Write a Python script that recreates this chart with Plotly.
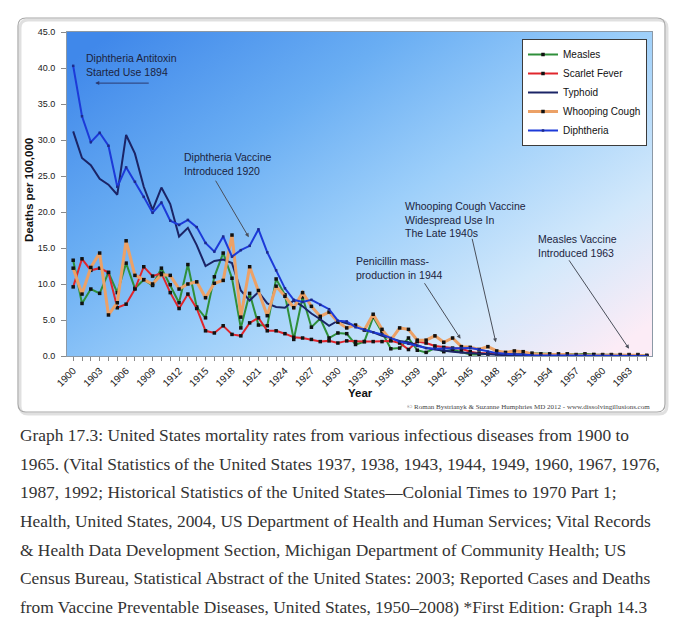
import base64
import plotly.graph_objects as go

# ---------------- data ----------------
years = list(range(1900, 1966))

measles = [13.3, 7.3, 9.3, 8.7, 11.6, 8.8, 12.9, 9.4, 10.6, 9.8,
           12.2, 9.9, 7.4, 12.7, 6.8, 5.3, 11.0, 14.3, 10.8, 3.9,
           8.7, 4.3, 4.2, 10.7, 8.5, 2.3, 8.2, 4.0, 5.2, 2.5,
           3.2, 3.1, 1.6, 2.0, 5.4, 3.3, 1.0, 1.1, 2.5, 0.8,
           0.5, 1.1, 0.6, 0.9, 0.6, 0.2, 0.2, 0.3, 0.4, 0.3,
           0.2, 0.4, 0.4, 0.3, 0.3, 0.2, 0.3, 0.2, 0.3, 0.2,
           0.2, 0.2, 0.2, 0.2, 0.2, 0.1]

scarlet_fever = [9.6, 13.5, 11.9, 12.2, 11.6, 6.7, 7.2, 9.3, 12.4, 11.1,
                 11.5, 8.8, 6.6, 8.6, 6.6, 3.5, 3.2, 4.2, 3.0, 2.8,
                 4.6, 5.3, 3.5, 3.5, 3.1, 2.6, 2.5, 2.3, 2.0, 2.1,
                 1.8, 2.1, 2.0, 2.0, 2.0, 2.0, 2.1, 1.8, 0.9, 2.0,
                 1.8, 1.4, 1.2, 1.1, 1.0, 0.6, 0.4, 0.3, 0.3, 0.2,
                 0.2, 0.1, 0.1, 0.1, 0.1, 0.1, 0.1, 0.1, 0.1, 0.1,
                 0.1, 0.1, 0.1, 0.1, 0.1, 0.0]

typhoid = [31.2, 27.5, 26.5, 24.6, 23.8, 22.4, 30.7, 28.1, 23.5, 20.3,
           23.4, 21.1, 16.6, 17.8, 15.4, 12.5, 13.2, 13.4, 12.9, 9.1,
           7.7, 8.9, 7.3, 6.8, 6.7, 7.7, 6.9, 5.9, 5.1, 4.2,
           4.9, 4.6, 4.2, 3.6, 3.3, 2.8, 2.4, 2.1, 1.9, 1.5,
           1.1, 0.9, 0.7, 0.6, 0.5, 0.4, 0.3, 0.2, 0.2, 0.1,
           0.1, 0.1, 0.1, 0.0, 0.0, 0.0, 0.0, 0.0, 0.0, 0.0,
           0.0, 0.0, 0.0, 0.0, 0.0, 0.0]

whooping_cough = [12.2, 8.6, 12.3, 14.3, 5.7, 7.4, 16.0, 11.2, 10.6, 10.0,
                  11.3, 11.2, 9.3, 10.0, 10.3, 8.1, 10.1, 10.5, 16.8, 5.4,
                  12.4, 9.1, 5.6, 9.7, 8.3, 6.7, 8.8, 6.9, 5.5, 6.1,
                  4.7, 3.9, 4.3, 3.6, 5.8, 3.7, 2.2, 3.9, 3.7, 2.2,
                  2.2, 2.8, 1.9, 2.5, 1.3, 1.2, 0.9, 1.3, 0.7, 0.5,
                  0.7, 0.6, 0.3, 0.2, 0.2, 0.3, 0.2, 0.1, 0.1, 0.2,
                  0.1, 0.1, 0.1, 0.1, 0.1, 0.0]

diphtheria = [40.3, 33.3, 29.7, 31.0, 29.2, 23.5, 26.2, 24.2, 22.1, 19.9,
              21.3, 18.8, 18.2, 18.9, 17.9, 15.7, 14.5, 16.6, 13.8, 14.7,
              15.3, 17.6, 14.4, 11.9, 9.4, 7.8, 7.5, 7.8, 7.1, 6.5,
              4.9, 4.8, 4.0, 3.6, 3.3, 3.0, 2.5, 2.0, 1.7, 1.4,
              1.1, 1.0, 1.0, 1.1, 1.1, 1.1, 0.9, 0.6, 0.4, 0.3,
              0.3, 0.2, 0.1, 0.1, 0.1, 0.1, 0.0, 0.0, 0.0, 0.0,
              0.0, 0.0, 0.0, 0.0, 0.0, 0.0]

y_tick_values = [0, 5, 10, 15, 20, 25, 30, 35, 40, 45]
x_label_years = list(range(1900, 1964, 3))

caption_lines = [
    "Graph 17.3: United States mortality rates from various infectious diseases from 1900 to",
    "1965. (Vital Statistics of the United States 1937, 1938, 1943, 1944, 1949, 1960, 1967, 1976,",
    "1987, 1992; Historical Statistics of the United States\u2014Colonial Times to 1970 Part 1;",
    "Health, United States, 2004, US Department of Health and Human Services; Vital Records",
    "& Health Data Development Section, Michigan Department of Community Health; US",
    "Census Bureau, Statistical Abstract of the United States: 2003; Reported Cases and Deaths",
    "from Vaccine Preventable Diseases, United States, 1950\u20132008) *First Edition: Graph 14.3",
]

# ---------------- layout geometry ----------------
# target pixel positions (page coordinates); the page body adds an 8px offset
W, H = 680, 632
OFF = 8
PLOT_L, PLOT_T, PW, PH = 67, 32, 585, 324
L, T = PLOT_L - OFF, PLOT_T - OFF
R, B = W - L - PW, H - T - PH


def px(xp):
    return (xp - PLOT_L) / PW


def py(yp):
    return (PLOT_T + PH - yp) / PH


SANS = "Liberation Sans, Arial, sans-serif"
SERIF = "Liberation Serif, Times New Roman, serif"

fig = go.Figure()

series = [
    ("Measles", measles, "#2f8f3a", 2, dict(size=3.5, color="#111111", symbol="square")),
    ("Scarlet Fever", scarlet_fever, "#e0262c", 2, dict(size=3.5, color="#111111", symbol="square")),
    ("Typhoid", typhoid, "#1b2466", 2, None),
    ("Whooping Cough", whooping_cough, "#eca166", 3, dict(size=3.5, color="#111111", symbol="square")),
    ("Diphtheria", diphtheria, "#1d3ad8", 2, dict(size=2.5, color="#1d2a8a", symbol="square")),
]
for name, vals, col, w, mk in series:
    fig.add_trace(go.Scatter(
        x=years, y=vals, name=name,
        mode="lines+markers" if mk else "lines",
        line=dict(color=col, width=w),
        marker=mk,
    ))

# gradient plot background (svg data uri)
svg = ("<svg xmlns='http://www.w3.org/2000/svg' width='400' height='220' viewBox='0 0 400 220' "
       "preserveAspectRatio='none'><defs><linearGradient id='g' x1='0' y1='0.1' x2='1' y2='0.9'>"
       "<stop offset='0' stop-color='#4088ea'/><stop offset='0.3' stop-color='#6aaef3'/>"
       "<stop offset='0.55' stop-color='#9dcffa'/><stop offset='0.8' stop-color='#d2e8fb'/>"
       "<stop offset='1' stop-color='#fcecf6'/></linearGradient></defs>"
       "<rect width='400' height='220' fill='url(#g)'/></svg>")
src = "data:image/svg+xml;base64," + base64.b64encode(svg.encode()).decode()
fig.add_layout_image(dict(source=src, xref="paper", yref="paper", x=0, y=1,
                          sizex=1, sizey=1, xanchor="left", yanchor="top",
                          sizing="stretch", layer="below"))


def rounded(x0, y0, x1, y1, r):
    rx, ry = r / PW, r / PH
    a, b, c, d = px(x0), py(y0), px(x1), py(y1)
    return (f"M {a+rx},{b} L {c-rx},{b} Q {c},{b} {c},{b-ry} L {c},{d+ry} Q {c},{d} {c-rx},{d} "
            f"L {a+rx},{d} Q {a},{d} {a},{d+ry} L {a},{b-ry} Q {a},{b} {a+rx},{b} Z")


# outer frame with soft shadow
fig.add_shape(type="path", xref="paper", yref="paper", path=rounded(20, 20, 667, 414, 8),
              line=dict(color="rgba(0,0,0,0.12)", width=3), layer="below")
fig.add_shape(type="path", xref="paper", yref="paper", path=rounded(18, 18, 665, 412, 8),
              line=dict(color="#a8a8a8", width=1.2), fillcolor="rgba(0,0,0,0)", layer="below")

ann_font = dict(family=SANS, size=10.5, color="#1c2440")
texts = [
    ("Diphtheria Antitoxin<br>Started Use 1894", 1901.2, 42.5),
    ("Diphtheria Vaccine<br>Introduced 1920", 1912.3, 28.7),
    ("Penicillin mass-<br>production in 1944", 1931.8, 14.3),
    ("Whooping Cough Vaccine<br>Widespread Use In<br>The Late 1940s", 1937.4, 22.0),
    ("Measles Vaccine<br>Introduced 1963", 1952.4, 17.3),
]
for t, x, y in texts:
    fig.add_annotation(x=x, y=y, xref="x", yref="y", text=t, showarrow=False,
                       xanchor="left", yanchor="top", align="left", font=ann_font)

arrows = [
    (1902.5, 37.9, 55, 0, "#2b3a70"),
    (1919.9, 16.5, -34, -58, "#4a4f5a"),
    (1943.9, 2.4, -37, -57, "#4a4f5a"),
    (1947.9, 1.9, -24, -105, "#4a4f5a"),
    (1963.0, 1.0, -61, -90, "#4a4f5a"),
]
for x, y, ax, ay, c in arrows:
    fig.add_annotation(x=x, y=y, xref="x", yref="y", ax=ax, ay=ay, text="",
                       showarrow=True, arrowhead=2, arrowsize=0.8, arrowwidth=1,
                       arrowcolor=c)

# axis titles and credit
fig.add_annotation(x=px(29), y=py(190), xref="paper", yref="paper", text="<b>Deaths per 100,000</b>",
                   textangle=-90, showarrow=False, xanchor="center", yanchor="middle",
                   font=dict(family=SANS, size=11.5, color="#111111"))
fig.add_annotation(x=px(360), y=py(393), xref="paper", yref="paper", text="<b>Year</b>",
                   showarrow=False, xanchor="center", yanchor="middle",
                   font=dict(family=SANS, size=11.5, color="#111111"))
fig.add_annotation(x=px(652), y=py(407), xref="paper", yref="paper", xanchor="right", yanchor="middle",
                   text="\u00a9 Roman Bystrianyk & Suzanne Humphries MD 2012 - www.dissolvingillusions.com",
                   showarrow=False, font=dict(family=SERIF, size=7, color="#444444"))

# caption
for i, line in enumerate(caption_lines):
    fig.add_annotation(x=px(18), y=py(435 + i * 28.67), xref="paper", yref="paper",
                       xanchor="left", yanchor="middle", text=line, showarrow=False,
                       font=dict(family=SERIF, size=17.4, color="#333333"))

fig.update_layout(
    width=W, height=H,
    margin=dict(l=L, r=R, t=T, b=B, autoexpand=False),
    paper_bgcolor="white",
    plot_bgcolor="rgba(0,0,0,0)",
    showlegend=True,
    legend=dict(x=px(647), y=py(39), xanchor="right", yanchor="top",
                bgcolor="white", bordercolor="#3c3c3c", borderwidth=1,
                font=dict(family=SANS, size=10, color="#111111"),
                itemwidth=30, tracegroupgap=0),
    xaxis=dict(range=[1899.3, 1965.6], tickmode="array", tickvals=x_label_years,
               ticktext=[str(v) for v in x_label_years], tickangle=-45,
               ticks="outside", ticklen=4, tickcolor="#8a8a8a",
               minor=dict(dtick=1, tick0=1900, ticks="outside", ticklen=4, tickcolor="#8a8a8a"),
               showgrid=False, zeroline=False, showline=True, linecolor="#8c99a6",
               linewidth=1, mirror=True,
               tickfont=dict(family=SANS, size=10, color="#1a1a1a")),
    yaxis=dict(range=[0, 45], tickmode="array", tickvals=y_tick_values,
               tickformat=".1f", ticks="outside", ticklen=5, tickcolor="#8a8a8a",
               ticklabelstandoff=4,
               showgrid=False, zeroline=False, showline=True, linecolor="#8c99a6",
               linewidth=1, mirror=True,
               tickfont=dict(family=SANS, size=9, color="#1a1a1a")),
)

fig.write_html("out.html")
